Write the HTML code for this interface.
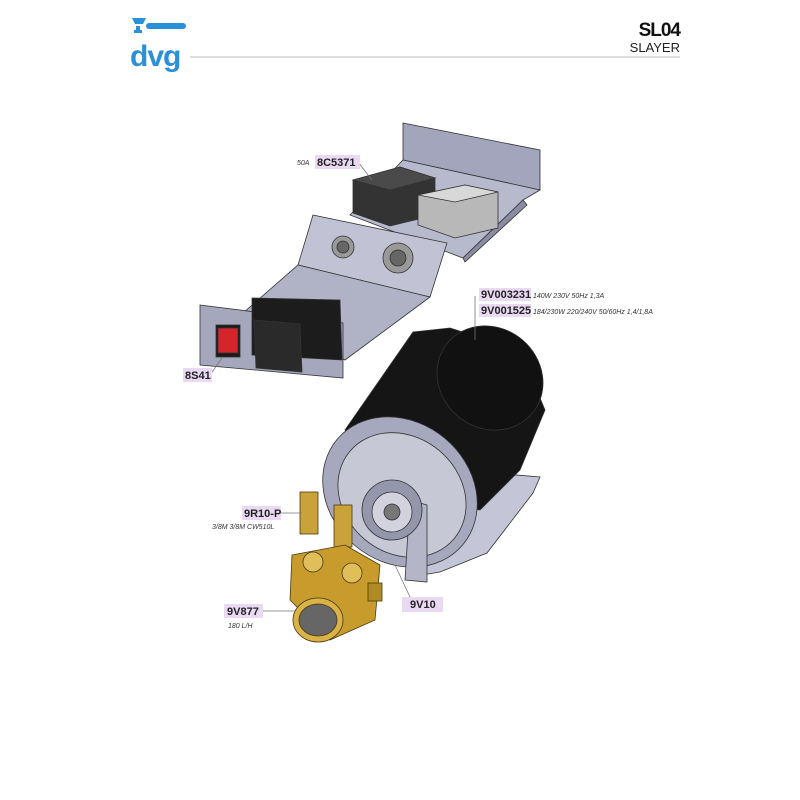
<!DOCTYPE html>
<html><head><meta charset="utf-8"><style>
body{margin:0;background:#fff;}
svg{display:block;font-family:"Liberation Sans",sans-serif;}
.lb{fill:#ead9f3;}
.lt{font-weight:bold;font-size:11px;fill:#222;}
.it{font-style:italic;font-size:7px;fill:#333;}
</style></head><body>
<svg width="800" height="800" viewBox="0 0 800 800">
<!-- header -->
<g fill="#2a90d8">
<path d="M132 18h14l-3 6h-8z"/><rect x="146" y="23" width="40" height="6" rx="3"/><rect x="136" y="26" width="4" height="6"/><rect x="134" y="30" width="8" height="3"/>
</g>
<text x="130" y="66" font-size="30" font-weight="bold" fill="#2a90d8" letter-spacing="-1">dvg</text>
<line x1="190" y1="57" x2="680" y2="57" stroke="#bbb" stroke-width="1"/>
<text x="680" y="36" text-anchor="end" font-size="19" font-weight="bold" fill="#111" letter-spacing="-1">SL04</text>
<text x="680" y="52" text-anchor="end" font-size="13" fill="#222">SLAYER</text>

<!-- electrical panel -->
<g stroke="#333" stroke-width="0.8">
<polygon points="403,123 540,150 540,190 403,160" fill="#a3a5bc"/>
<polygon points="403,160 540,190 523,200 463,258 350,215" fill="#b7b9cc"/>
<polygon points="463,258 523,200 527,205 465,262" fill="#8a8ca3"/>
<polygon points="313,215 447,243 430,297 298,265" fill="#c1c3d4"/>
<polygon points="298,265 430,297 345,360 243,313" fill="#b0b2c6"/>
<polygon points="200,305 343,323 343,378 200,365" fill="#a5a7bc"/>
<polygon points="252,298 340,300 342,360 252,355" fill="#1c1c1c"/>
<polygon points="254,320 300,324 302,372 256,368" fill="#2a2a2a"/>
<rect x="216" y="325" width="24" height="32" fill="#1a1a1a"/>
<rect x="218" y="328" width="20" height="25" fill="#d6242c"/>
<polygon points="353,180 400,167 435,178 435,215 390,226 353,213" fill="#333"/>
<polygon points="353,180 400,167 435,178 390,190" fill="#4a4a4a"/>
<polygon points="418,195 465,185 498,192 498,228 455,238 418,225" fill="#b8b8b8"/>
<polygon points="418,195 465,185 498,192 455,202" fill="#d8d8d8"/>
<circle cx="343" cy="247" r="11" fill="#999"/><circle cx="343" cy="247" r="6" fill="#666"/>
<circle cx="398" cy="258" r="15" fill="#999"/><circle cx="398" cy="258" r="8" fill="#666"/>
</g>

<!-- motor -->
<g stroke="#333" stroke-width="0.8">
<polygon points="457,470 540,477 533,493 487,553 440,572 410,577 410,500" fill="#c4c6d8"/>
<polygon points="345,430 413,332 450,328 520,350 545,410 520,470 480,510 400,500" fill="#151515"/>
<ellipse cx="490" cy="378" rx="55" ry="50" transform="rotate(40 490 378)" fill="#111"/>
<ellipse cx="400" cy="492" rx="82" ry="70" transform="rotate(40 400 492)" fill="#a6a8be"/>
<ellipse cx="402" cy="495" rx="68" ry="58" transform="rotate(40 402 495)" fill="#c7c8d6"/>
<polygon points="410,500 427,505 427,582 405,580" fill="#b4b6c8"/>
<circle cx="392" cy="510" r="30" fill="#9496ac"/>
<circle cx="392" cy="512" r="20" fill="#d2d3de"/>
<circle cx="392" cy="512" r="8" fill="#777"/>
</g>

<!-- pump brass -->
<g stroke="#4a3a10" stroke-width="0.8">
<rect x="300" y="492" width="18" height="42" fill="#c9a23a"/>
<rect x="334" y="505" width="18" height="42" fill="#c9a23a"/>
<polygon points="292,555 345,545 380,565 375,620 330,640 290,600" fill="#c79b2c"/>
<circle cx="313" cy="562" r="10" fill="#e0bf5a"/>
<circle cx="352" cy="573" r="10" fill="#e0bf5a"/>
<rect x="368" y="583" width="14" height="18" fill="#b08a22"/>
<ellipse cx="318" cy="620" rx="25" ry="22" fill="#d9b348"/>
<ellipse cx="318" cy="620" rx="19" ry="16" fill="#666"/>
</g>

<!-- leader lines -->
<g stroke="#777" stroke-width="0.8">
<line x1="358" y1="162" x2="372" y2="180"/>
<line x1="475" y1="296" x2="475" y2="340"/>
<line x1="210" y1="375" x2="222" y2="358"/>
<line x1="280" y1="513" x2="302" y2="513"/>
<line x1="262" y1="611" x2="295" y2="611"/>
<line x1="410" y1="597" x2="395" y2="565"/>
</g>

<!-- labels -->
<text x="297" y="165" class="it">50A</text>
<rect x="315" y="155" width="45" height="14" class="lb"/><text x="317" y="166" class="lt">8C5371</text>
<rect x="479" y="288" width="52" height="13" class="lb"/><text x="481" y="298" class="lt">9V003231</text>
<text x="533" y="298" class="it">140W 230V 50Hz 1,3A</text>
<rect x="479" y="304" width="52" height="13" class="lb"/><text x="481" y="314" class="lt">9V001525</text>
<text x="533" y="314" class="it">184/230W 220/240V 50/60Hz 1,4/1,8A</text>
<rect x="183" y="368" width="29" height="14" class="lb"/><text x="185" y="379" class="lt">8S41</text>
<rect x="242" y="506" width="39" height="14" class="lb"/><text x="244" y="517" class="lt">9R10-P</text>
<text x="212" y="529" class="it">3/8M 3/8M CW510L</text>
<rect x="224" y="604" width="39" height="14" class="lb"/><text x="227" y="615" class="lt">9V877</text>
<text x="228" y="628" class="it">180 L/H</text>
<rect x="402" y="597" width="41" height="15" class="lb"/><text x="410" y="608" class="lt">9V10</text>
</svg>
</body></html>
